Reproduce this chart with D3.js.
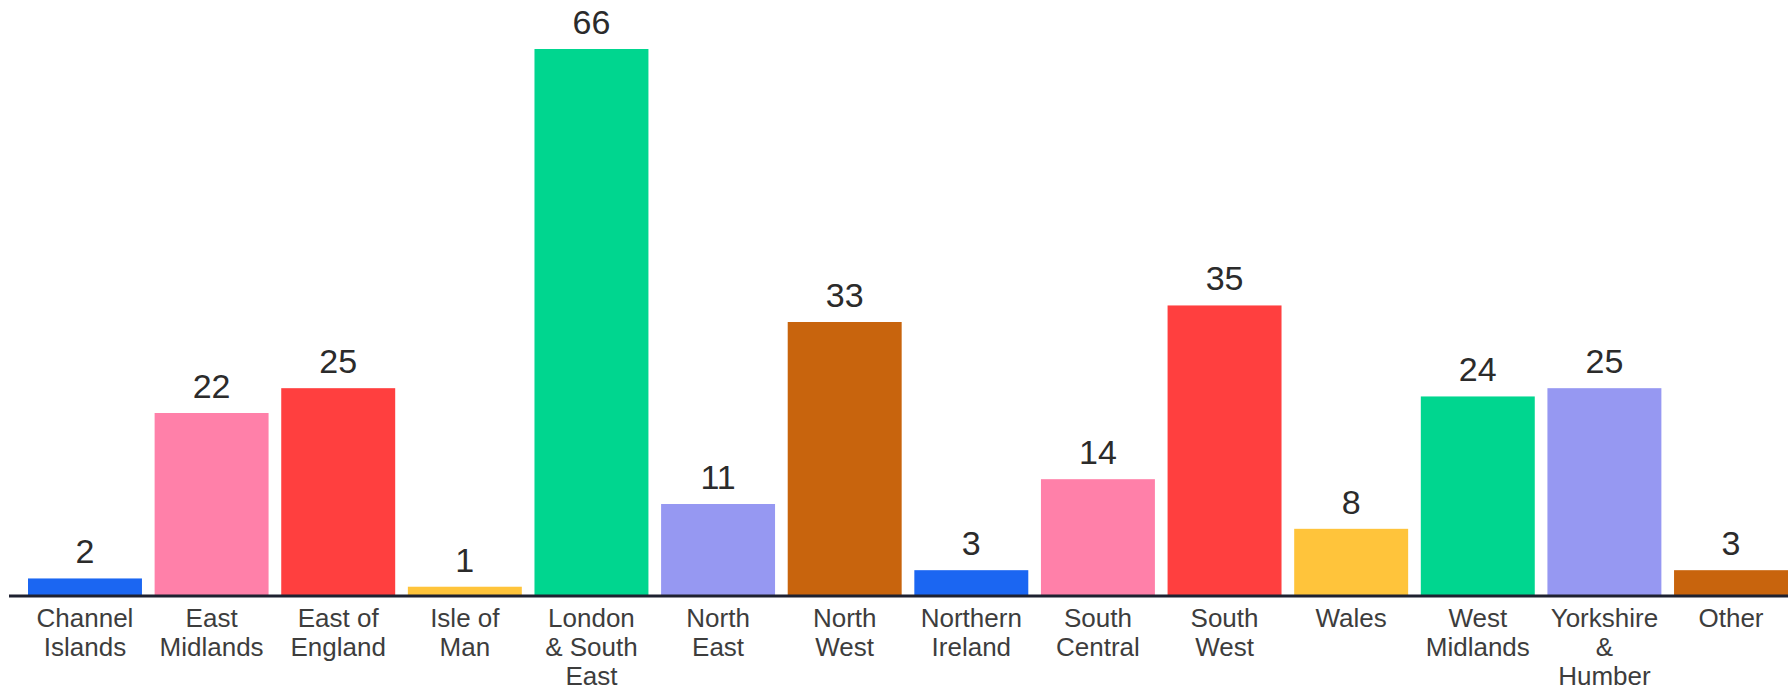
<!DOCTYPE html>
<html>
<head>
<meta charset="utf-8">
<script src="https://cdn.jsdelivr.net/npm/d3@7"></script>
<style>
  html, body { margin: 0; padding: 0; background: #fff; }
</style>
</head>
<body>
<div id="chart-area"></div>
<script>
// data
var regions = ["Channel Islands", "East Midlands", "East of England", "Isle of Man",
    "London & South East", "North East", "North West", "Northern Ireland",
    "South Central", "South West", "Wales", "West Midlands", "Yorkshire & Humber", "Other"];
var labelLines = [["Channel", "Islands"], ["East", "Midlands"], ["East of", "England"], ["Isle of", "Man"],
    ["London", "& South", "East"], ["North", "East"], ["North", "West"], ["Northern", "Ireland"],
    ["South", "Central"], ["South", "West"], ["Wales"], ["West", "Midlands"], ["Yorkshire", "&", "Humber"], ["Other"]];
var counts = [2, 22, 25, 1, 66, 11, 33, 3, 14, 35, 8, 24, 25, 3];
var palette = ["#1b66f2", "#ff80a9", "#ff3f3f", "#ffc43b", "#00d68f", "#9698f2", "#c8640d"];

var width = 1788, height = 690;
var baseY = 595;

var svg = d3.select("#chart-area").append("svg")
    .attr("width", width)
    .attr("height", height);

var x = d3.scaleBand().domain(regions).range([28, 1788]).paddingInner(0.1).paddingOuter(0);
var y = d3.scaleLinear().domain([0, 66]).range([baseY, 49]);
var color = d3.scaleOrdinal().domain(d3.range(palette.length)).range(palette);

// bars
svg.selectAll("rect.bar")
    .data(counts)
    .enter().append("rect")
    .attr("class", "bar")
    .attr("x", (d, i) => x(regions[i]))
    .attr("y", (d) => y(d))
    .attr("width", x.bandwidth())
    .attr("height", (d) => baseY - y(d))
    .attr("fill", (d, i) => color(i % palette.length));

// value labels
svg.selectAll("text.value")
    .data(counts)
    .enter().append("text")
    .attr("class", "value")
    .attr("x", (d, i) => x(regions[i]) + x.bandwidth() / 2)
    .attr("y", (d) => y(d) - 15)
    .attr("text-anchor", "middle")
    .attr("font-family", "Liberation Sans, Arial, sans-serif")
    .attr("font-size", "34px")
    .style("fill", "#2b2b2b")
    .text((d) => d);

// baseline
svg.append("line")
    .attr("x1", 9)
    .attr("x2", width)
    .attr("y1", baseY + 1)
    .attr("y2", baseY + 1)
    .attr("stroke", "#1e2130")
    .attr("stroke-width", 3);

// category labels
var labels = svg.selectAll("text.cat")
    .data(regions)
    .enter().append("text")
    .attr("class", "cat")
    .attr("text-anchor", "middle")
    .attr("font-family", "Liberation Sans, Arial, sans-serif")
    .attr("font-size", "26px")
    .style("fill", "#3d3d3d");

labels.each(function(d, i) {
    var t = d3.select(this);
    labelLines[i].forEach((line, j) => {
        t.append("tspan")
            .attr("x", x(d) + x.bandwidth() / 2)
            .attr("y", 627 + j * 29)
            .text(line);
    });
});
</script>
</body>
</html>
